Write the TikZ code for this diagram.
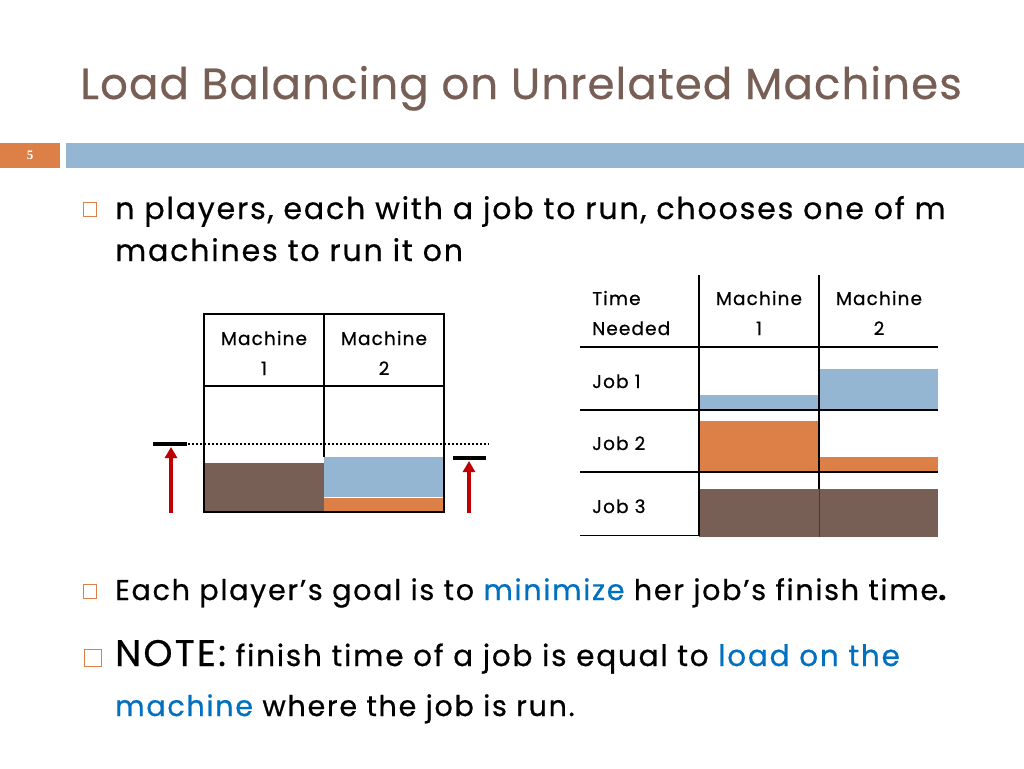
\documentclass[tikz,border=0pt]{standalone}
\usepackage{fontspec}
\setmainfont{Poppins}[LetterSpace=6,FakeBold=0.6]
\newfontfamily\titlefont{Poppins}[LetterSpace=2.5,FakeBold=0.4]
\newfontfamily\numfont{Liberation Serif}
\usetikzlibrary{arrows.meta}
\definecolor{titlec}{HTML}{775F55}
\definecolor{orangec}{HTML}{DD8047}
\definecolor{bluec}{HTML}{94B6D2}
\definecolor{brownc}{HTML}{775F55}
\definecolor{linkc}{HTML}{0070C0}
\definecolor{arrowc}{HTML}{C00000}
\tikzset{
  txt/.style={anchor=base west, inner sep=0pt, text=black},
  ctxt/.style={anchor=base, inner sep=0pt, text=black},
  bulletbox/.style={draw=orangec, line width=1pt},
  grid/.style={draw=black, line width=1.2pt},
  upar/.style={draw=arrowc, line width=3.5pt, -{Triangle[length=11pt,width=12pt]}},
  levelbar/.style={draw=black, line width=3.5pt},
  small/.style={font=\fontsize{18.5}{22}\selectfont},
}
\begin{document}
\begin{tikzpicture}[x=1pt,y=-1pt]
\useasboundingbox[fill=white] (0,0) rectangle (1024,768);
% title
\node[txt, text=titlec, font=\titlefont\fontsize{43.5}{52}\selectfont] (title) at (80,99) {Load Balancing on Unrelated Machines};
% header bars
\fill[orangec] (0,143) rectangle (60,168);
\node[inner sep=0pt, text=white, font=\numfont\bfseries\fontsize{13}{15}\selectfont] (pagenum) at (30,155.5) {5};
\fill[bluec] (66,143) rectangle (1024,168);
% bullet 1
\draw[bulletbox] (83.5,202.5) rectangle (96.5,216.5);
\node[txt, font=\fontsize{30.1}{35}\selectfont] (b1a) at (115,219) {n players, each with a job to run, chooses one of m};
\node[txt, font=\fontsize{30.1}{35}\selectfont] (b1b) at (115,261) {machines to run it on};
% left diagram fills
\fill[brownc] (204,463) rectangle (324,512);
\fill[bluec] (324,457) rectangle (444,496.5);
\fill[orangec] (324,498) rectangle (444,512);
% left diagram grid
\draw[grid] (204,314) rectangle (444,512);
\draw[grid] (324,314) -- (324,457);
\draw[grid] (204,386) -- (444,386);
\node[ctxt, small] (lm1) at (264,345) {Machine};
\node[ctxt, small] (lm1n) at (264,375) {1};
\node[ctxt, small] (lm2) at (384,345) {Machine};
\node[ctxt, small] (lm2n) at (384,375) {2};
% level line and arrows
\coordinate (dotl) at (188,444);
\coordinate (dotr) at (489,444);
\draw[black, line width=2pt, dotted] (dotl) -- (dotr);
\coordinate (lbl) at (153,444);
\coordinate (lbr) at (187,444);
\draw[levelbar] (lbl) -- (lbr);
\coordinate (rbl) at (453,458);
\coordinate (rbr) at (486,458);
\draw[levelbar] (rbl) -- (rbr);
\coordinate (la0) at (171,513);
\coordinate (la1) at (171,447);
\draw[upar] (la0) -- (la1);
\coordinate (ra0) at (469,513);
\coordinate (ra1) at (469,461);
\draw[upar] (ra0) -- (ra1);
% right table fills
\fill[bluec] (699,395) rectangle (819,410);
\fill[bluec] (819,369) rectangle (938,410);
\fill[orangec] (699,421) rectangle (819,472);
\fill[orangec] (819,457) rectangle (938,472);
\fill[brownc] (699,489) rectangle (938,537);
% right table lines
\draw[grid] (699,275) -- (699,536);
\draw[grid] (819,275) -- (819,489);
\draw[grid] (580,347) -- (938,347);
\draw[grid] (580,410) -- (938,410);
\draw[grid] (580,472) -- (938,472);
\draw[grid] (580,535.5) -- (699,535.5);
\draw[black!40!brownc, line width=0.8pt] (819,489) -- (819,537);
% right table text
\node[txt, small] (tt1) at (592,305) {Time};
\node[txt, small] (tt2) at (592,335) {Needed};
\node[ctxt, small] (rm1) at (759,305) {Machine};
\node[ctxt, small] (rm1n) at (759,335) {1};
\node[ctxt, small] (rm2) at (879,305) {Machine};
\node[ctxt, small] (rm2n) at (879,335) {2};
\node[txt, small] (j1) at (592,388) {Job 1};
\node[txt, small] (j2) at (592,450) {Job 2};
\node[txt, small] (j3) at (592,513) {Job 3};
% bullet 2
\draw[bulletbox] (83.5,584.5) rectangle (96.5,598.5);
\node[txt, font=\fontsize{28.6}{34}\selectfont] (b2) at (115,600) {Each player’s goal is to \textcolor{linkc}{minimize} her job’s finish time\textbf{.}};
% bullet 3
\draw[bulletbox] (84,649) rectangle (101,666);
\node[txt, font=\fontsize{29.5}{33}\selectfont] (b3a) at (115,666) {{\fontsize{37}{42}\selectfont NOTE:} finish time of a job is equal to \textcolor{linkc}{load on the}};
\node[txt, font=\fontsize{28.6}{33}\selectfont] (b3b) at (115,716) {\textcolor{linkc}{machine} where the job is run.};
\end{tikzpicture}
\end{document}
